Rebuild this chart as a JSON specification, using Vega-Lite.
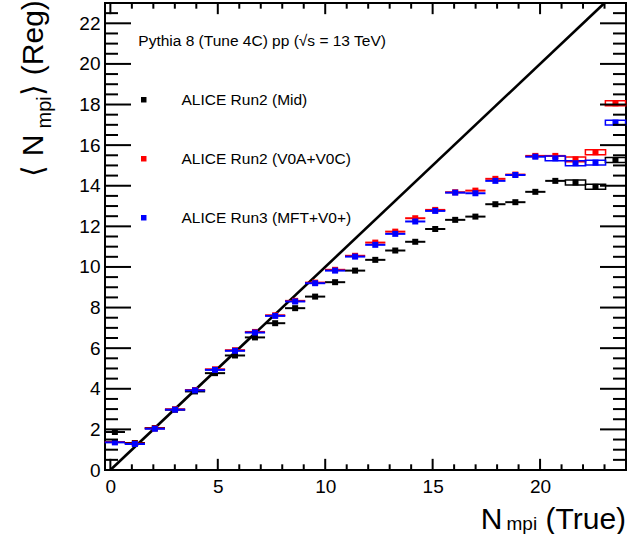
{
  "$schema": "https://vega.github.io/schema/vega-lite/v6.json",
  "autosize": "none",
  "width": 521,
  "height": 467,
  "padding": {"left": 105, "top": 3, "right": 18, "bottom": 64},
  "background": "white",
  "config": {
    "view": {"stroke": "black", "strokeWidth": 2},
    "axis": {"domain": false, "grid": false, "ticks": false, "labelFont": "Liberation Sans", "labelColor": "black", "titleFont": "Liberation Sans", "titleColor": "black", "titleFontWeight": "normal"}
  },
  "data": {"values": [
    {"s":"ALICE Run2 (Mid)","x":0.21,"y":1.87,"xlo":-0.26,"xhi":0.68,"sys":false},
    {"s":"ALICE Run2 (Mid)","x":1.14,"y":1.33,"xlo":0.67,"xhi":1.61,"sys":false},
    {"s":"ALICE Run2 (Mid)","x":2.07,"y":2.07,"xlo":1.60,"xhi":2.54,"sys":false},
    {"s":"ALICE Run2 (Mid)","x":3.01,"y":2.97,"xlo":2.54,"xhi":3.48,"sys":false},
    {"s":"ALICE Run2 (Mid)","x":3.94,"y":3.87,"xlo":3.47,"xhi":4.41,"sys":false},
    {"s":"ALICE Run2 (Mid)","x":4.87,"y":4.77,"xlo":4.40,"xhi":5.34,"sys":false},
    {"s":"ALICE Run2 (Mid)","x":5.80,"y":5.64,"xlo":5.33,"xhi":6.27,"sys":false},
    {"s":"ALICE Run2 (Mid)","x":6.73,"y":6.53,"xlo":6.26,"xhi":7.20,"sys":false},
    {"s":"ALICE Run2 (Mid)","x":7.67,"y":7.23,"xlo":7.20,"xhi":8.14,"sys":false},
    {"s":"ALICE Run2 (Mid)","x":8.60,"y":7.97,"xlo":8.13,"xhi":9.07,"sys":false},
    {"s":"ALICE Run2 (Mid)","x":9.53,"y":8.54,"xlo":9.06,"xhi":10.00,"sys":false},
    {"s":"ALICE Run2 (Mid)","x":10.46,"y":9.25,"xlo":9.99,"xhi":10.93,"sys":false},
    {"s":"ALICE Run2 (Mid)","x":11.39,"y":9.82,"xlo":10.92,"xhi":11.86,"sys":false},
    {"s":"ALICE Run2 (Mid)","x":12.33,"y":10.35,"xlo":11.86,"xhi":12.80,"sys":false},
    {"s":"ALICE Run2 (Mid)","x":13.26,"y":10.81,"xlo":12.79,"xhi":13.73,"sys":false},
    {"s":"ALICE Run2 (Mid)","x":14.19,"y":11.24,"xlo":13.72,"xhi":14.66,"sys":false},
    {"s":"ALICE Run2 (Mid)","x":15.12,"y":11.87,"xlo":14.65,"xhi":15.59,"sys":false},
    {"s":"ALICE Run2 (Mid)","x":16.05,"y":12.32,"xlo":15.58,"xhi":16.52,"sys":false},
    {"s":"ALICE Run2 (Mid)","x":16.99,"y":12.48,"xlo":16.52,"xhi":17.46,"sys":false},
    {"s":"ALICE Run2 (Mid)","x":17.92,"y":13.09,"xlo":17.45,"xhi":18.39,"sys":false},
    {"s":"ALICE Run2 (Mid)","x":18.85,"y":13.19,"xlo":18.38,"xhi":19.32,"sys":false},
    {"s":"ALICE Run2 (Mid)","x":19.78,"y":13.70,"xlo":19.31,"xhi":20.25,"sys":false},
    {"s":"ALICE Run2 (Mid)","x":20.71,"y":14.24,"xlo":20.24,"xhi":21.18,"sys":false},
    {"s":"ALICE Run2 (Mid)","x":21.65,"y":14.16,"xlo":21.18,"xhi":22.12,"sys":true,"ylo":14.04,"yhi":14.28},
    {"s":"ALICE Run2 (Mid)","x":22.58,"y":13.95,"xlo":22.11,"xhi":23.05,"sys":true,"ylo":13.83,"yhi":14.07},
    {"s":"ALICE Run2 (Mid)","x":23.51,"y":15.27,"xlo":23.04,"xhi":23.98,"sys":true,"ylo":15.15,"yhi":15.39},
    {"s":"ALICE Run2 (V0A+V0C)","x":0.21,"y":1.38,"xlo":-0.26,"xhi":0.68,"sys":false},
    {"s":"ALICE Run2 (V0A+V0C)","x":1.14,"y":1.30,"xlo":0.67,"xhi":1.61,"sys":false},
    {"s":"ALICE Run2 (V0A+V0C)","x":2.07,"y":2.05,"xlo":1.60,"xhi":2.54,"sys":false},
    {"s":"ALICE Run2 (V0A+V0C)","x":3.01,"y":2.99,"xlo":2.54,"xhi":3.48,"sys":false},
    {"s":"ALICE Run2 (V0A+V0C)","x":3.94,"y":3.94,"xlo":3.47,"xhi":4.41,"sys":false},
    {"s":"ALICE Run2 (V0A+V0C)","x":4.87,"y":4.96,"xlo":4.40,"xhi":5.34,"sys":false},
    {"s":"ALICE Run2 (V0A+V0C)","x":5.80,"y":5.90,"xlo":5.33,"xhi":6.27,"sys":false},
    {"s":"ALICE Run2 (V0A+V0C)","x":6.73,"y":6.80,"xlo":6.26,"xhi":7.20,"sys":false},
    {"s":"ALICE Run2 (V0A+V0C)","x":7.67,"y":7.62,"xlo":7.20,"xhi":8.14,"sys":false},
    {"s":"ALICE Run2 (V0A+V0C)","x":8.60,"y":8.33,"xlo":8.13,"xhi":9.07,"sys":false},
    {"s":"ALICE Run2 (V0A+V0C)","x":9.53,"y":9.23,"xlo":9.06,"xhi":10.00,"sys":false},
    {"s":"ALICE Run2 (V0A+V0C)","x":10.46,"y":9.86,"xlo":9.99,"xhi":10.93,"sys":false},
    {"s":"ALICE Run2 (V0A+V0C)","x":11.39,"y":10.55,"xlo":10.92,"xhi":11.86,"sys":false},
    {"s":"ALICE Run2 (V0A+V0C)","x":12.33,"y":11.20,"xlo":11.86,"xhi":12.80,"sys":false},
    {"s":"ALICE Run2 (V0A+V0C)","x":13.26,"y":11.74,"xlo":12.79,"xhi":13.73,"sys":false},
    {"s":"ALICE Run2 (V0A+V0C)","x":14.19,"y":12.40,"xlo":13.72,"xhi":14.66,"sys":false},
    {"s":"ALICE Run2 (V0A+V0C)","x":15.12,"y":12.81,"xlo":14.65,"xhi":15.59,"sys":false},
    {"s":"ALICE Run2 (V0A+V0C)","x":16.05,"y":13.68,"xlo":15.58,"xhi":16.52,"sys":false},
    {"s":"ALICE Run2 (V0A+V0C)","x":16.99,"y":13.76,"xlo":16.52,"xhi":17.46,"sys":false},
    {"s":"ALICE Run2 (V0A+V0C)","x":17.92,"y":14.34,"xlo":17.45,"xhi":18.39,"sys":false},
    {"s":"ALICE Run2 (V0A+V0C)","x":18.85,"y":14.55,"xlo":18.38,"xhi":19.32,"sys":false},
    {"s":"ALICE Run2 (V0A+V0C)","x":19.78,"y":15.47,"xlo":19.31,"xhi":20.25,"sys":false},
    {"s":"ALICE Run2 (V0A+V0C)","x":20.71,"y":15.47,"xlo":20.24,"xhi":21.18,"sys":false},
    {"s":"ALICE Run2 (V0A+V0C)","x":21.65,"y":15.30,"xlo":21.18,"xhi":22.12,"sys":true,"ylo":15.18,"yhi":15.42},
    {"s":"ALICE Run2 (V0A+V0C)","x":22.58,"y":15.65,"xlo":22.11,"xhi":23.05,"sys":true,"ylo":15.53,"yhi":15.77},
    {"s":"ALICE Run2 (V0A+V0C)","x":23.51,"y":18.06,"xlo":23.04,"xhi":23.98,"sys":true,"ylo":17.94,"yhi":18.18},
    {"s":"ALICE Run3 (MFT+V0+)","x":0.21,"y":1.36,"xlo":-0.26,"xhi":0.68,"sys":false},
    {"s":"ALICE Run3 (MFT+V0+)","x":1.14,"y":1.28,"xlo":0.67,"xhi":1.61,"sys":false},
    {"s":"ALICE Run3 (MFT+V0+)","x":2.07,"y":2.03,"xlo":1.60,"xhi":2.54,"sys":false},
    {"s":"ALICE Run3 (MFT+V0+)","x":3.01,"y":2.97,"xlo":2.54,"xhi":3.48,"sys":false},
    {"s":"ALICE Run3 (MFT+V0+)","x":3.94,"y":3.92,"xlo":3.47,"xhi":4.41,"sys":false},
    {"s":"ALICE Run3 (MFT+V0+)","x":4.87,"y":4.93,"xlo":4.40,"xhi":5.34,"sys":false},
    {"s":"ALICE Run3 (MFT+V0+)","x":5.80,"y":5.87,"xlo":5.33,"xhi":6.27,"sys":false},
    {"s":"ALICE Run3 (MFT+V0+)","x":6.73,"y":6.77,"xlo":6.26,"xhi":7.20,"sys":false},
    {"s":"ALICE Run3 (MFT+V0+)","x":7.67,"y":7.59,"xlo":7.20,"xhi":8.14,"sys":false},
    {"s":"ALICE Run3 (MFT+V0+)","x":8.60,"y":8.30,"xlo":8.13,"xhi":9.07,"sys":false},
    {"s":"ALICE Run3 (MFT+V0+)","x":9.53,"y":9.20,"xlo":9.06,"xhi":10.00,"sys":false},
    {"s":"ALICE Run3 (MFT+V0+)","x":10.46,"y":9.82,"xlo":9.99,"xhi":10.93,"sys":false},
    {"s":"ALICE Run3 (MFT+V0+)","x":11.39,"y":10.51,"xlo":10.92,"xhi":11.86,"sys":false},
    {"s":"ALICE Run3 (MFT+V0+)","x":12.33,"y":11.09,"xlo":11.86,"xhi":12.80,"sys":false},
    {"s":"ALICE Run3 (MFT+V0+)","x":13.26,"y":11.63,"xlo":12.79,"xhi":13.73,"sys":false},
    {"s":"ALICE Run3 (MFT+V0+)","x":14.19,"y":12.24,"xlo":13.72,"xhi":14.66,"sys":false},
    {"s":"ALICE Run3 (MFT+V0+)","x":15.12,"y":12.76,"xlo":14.65,"xhi":15.59,"sys":false},
    {"s":"ALICE Run3 (MFT+V0+)","x":16.05,"y":13.66,"xlo":15.58,"xhi":16.52,"sys":false},
    {"s":"ALICE Run3 (MFT+V0+)","x":16.99,"y":13.63,"xlo":16.52,"xhi":17.46,"sys":false},
    {"s":"ALICE Run3 (MFT+V0+)","x":17.92,"y":14.24,"xlo":17.45,"xhi":18.39,"sys":false},
    {"s":"ALICE Run3 (MFT+V0+)","x":18.85,"y":14.53,"xlo":18.38,"xhi":19.32,"sys":false},
    {"s":"ALICE Run3 (MFT+V0+)","x":19.78,"y":15.43,"xlo":19.31,"xhi":20.25,"sys":false},
    {"s":"ALICE Run3 (MFT+V0+)","x":20.71,"y":15.35,"xlo":20.24,"xhi":21.18,"sys":true,"ylo":15.23,"yhi":15.47},
    {"s":"ALICE Run3 (MFT+V0+)","x":21.65,"y":15.11,"xlo":21.18,"xhi":22.12,"sys":true,"ylo":14.99,"yhi":15.23},
    {"s":"ALICE Run3 (MFT+V0+)","x":22.58,"y":15.14,"xlo":22.11,"xhi":23.05,"sys":true,"ylo":15.02,"yhi":15.26},
    {"s":"ALICE Run3 (MFT+V0+)","x":23.51,"y":17.11,"xlo":23.04,"xhi":23.98,"sys":true,"ylo":16.99,"yhi":17.23}
  ]},
  "resolve": {"axis": {"x": "independent", "y": "independent"}},
  "layer": [
    {
      "data": {"values": [{"x": 0, "y": 0}, {"x": 23, "y": 23}]},
      "mark": {"type": "line", "color": "black", "strokeWidth": 2.6},
      "encoding": {
        "x": {"field": "x", "type": "quantitative", "scale": {"domain": [-0.25, 24], "nice": false, "zero": false},
              "axis": {"orient": "bottom", "values": [0, 5, 10, 15, 20], "labelPadding": 7, "labelFontSize": 19, "labelFlush": false,
                       "title": "N", "titleFontSize": 30, "titleX": 386, "titleY": 58, "titleAlign": "center", "titleBaseline": "alphabetic", "titleAngle": 0}},
        "y": {"field": "y", "type": "quantitative", "scale": {"domain": [0, 23], "nice": false, "zero": false},
              "axis": {"orient": "left", "values": [0, 2, 4, 6, 8, 10, 12, 14, 16, 18, 20, 22], "labelPadding": 5, "labelFontSize": 19, "labelFlush": false,
                       "title": "⟨ N", "titleFontSize": 30, "titleX": -63, "titleY": 173, "titleAlign": "left", "titleBaseline": "alphabetic", "titleAngle": 270}}
      }
    },
    {
      "transform": [{"filter": {"field": "sys", "equal": false}}],
      "mark": {"type": "rule", "strokeWidth": 2},
      "encoding": {
        "x": {"field": "xlo", "type": "quantitative", "scale": {"domain": [-0.25, 24], "nice": false, "zero": false},
              "axis": {"orient": "bottom", "values": [0], "labels": false,
                       "title": "mpi", "titleFontSize": 19, "titleX": 401, "titleY": 59, "titleAlign": "left", "titleBaseline": "alphabetic", "titleAngle": 0}},
        "x2": {"field": "xhi"},
        "y": {"field": "y", "type": "quantitative", "scale": {"domain": [0, 23], "nice": false, "zero": false},
              "axis": {"orient": "left", "values": [0], "labels": false,
                       "title": "mpi", "titleFontSize": 20, "titleX": -55, "titleY": 125, "titleAlign": "left", "titleBaseline": "alphabetic", "titleAngle": 270}},
        "color": {"field": "s", "type": "nominal",
                  "scale": {"domain": ["ALICE Run2 (Mid)", "ALICE Run2 (V0A+V0C)", "ALICE Run3 (MFT+V0+)"], "range": ["#000000", "#ff0000", "#0000ff"]},
                  "legend": {"orient": "none", "legendX": 31, "legendY": 89, "direction": "vertical", "title": null,
                             "symbolType": "square", "symbolSize": 30, "symbolStrokeWidth": 0, "labelFont": "Liberation Sans", "labelFontSize": 15.5,
                             "labelColor": "black", "labelOffset": 30, "rowPadding": 42, "padding": 0, "labelLimit": 300}}
      }
    },
    {
      "transform": [{"filter": {"field": "sys", "equal": true}}],
      "mark": {"type": "rect", "filled": false, "strokeWidth": 1.5},
      "encoding": {
        "x": {"field": "xlo", "type": "quantitative", "scale": {"domain": [-0.25, 24], "nice": false, "zero": false},
              "axis": {"orient": "bottom", "values": [0], "labels": false,
                       "title": "(True)", "titleFontSize": 30, "titleX": 440, "titleY": 58, "titleAlign": "left", "titleBaseline": "alphabetic", "titleAngle": 0}},
        "x2": {"field": "xhi"},
        "y": {"field": "ylo", "type": "quantitative", "scale": {"domain": [0, 23], "nice": false, "zero": false},
              "axis": {"orient": "left", "values": [0], "labels": false,
                       "title": "⟩ (Reg)", "titleFontSize": 30, "titleX": -63, "titleY": 92, "titleAlign": "left", "titleBaseline": "alphabetic", "titleAngle": 270}},
        "y2": {"field": "yhi"},
        "color": {"field": "s", "type": "nominal",
                  "scale": {"domain": ["ALICE Run2 (Mid)", "ALICE Run2 (V0A+V0C)", "ALICE Run3 (MFT+V0+)"], "range": ["#000000", "#ff0000", "#0000ff"]},
                  "legend": {"orient": "none", "legendX": 31, "legendY": 89, "direction": "vertical", "title": null,
                             "symbolType": "square", "symbolSize": 30, "symbolStrokeWidth": 0, "labelFont": "Liberation Sans", "labelFontSize": 15.5,
                             "labelColor": "black", "labelOffset": 30, "rowPadding": 42, "padding": 0, "labelLimit": 300}}
      }
    },
    {
      "mark": {"type": "square", "size": 36, "opacity": 1, "filled": true, "strokeWidth": 0},
      "encoding": {
        "x": {"field": "x", "type": "quantitative", "scale": {"domain": [-0.25, 24], "nice": false, "zero": false}, "axis": null},
        "y": {"field": "y", "type": "quantitative", "scale": {"domain": [0, 23], "nice": false, "zero": false}, "axis": null},
        "color": {"field": "s", "type": "nominal",
                  "scale": {"domain": ["ALICE Run2 (Mid)", "ALICE Run2 (V0A+V0C)", "ALICE Run3 (MFT+V0+)"], "range": ["#000000", "#ff0000", "#0000ff"]},
                  "legend": {"orient": "none", "legendX": 31, "legendY": 89, "direction": "vertical", "title": null,
                             "symbolType": "square", "symbolSize": 30, "symbolStrokeWidth": 0, "labelFont": "Liberation Sans", "labelFontSize": 15.5,
                             "labelColor": "black", "labelOffset": 30, "rowPadding": 42, "padding": 0, "labelLimit": 300}}
      }
    },
    {
      "data": {"values": [{"note": "Pythia 8 (Tune 4C) pp (√s = 13 TeV)"}]},
      "mark": {"type": "text", "align": "left", "baseline": "middle", "font": "Liberation Sans", "fontSize": 15.5, "color": "black"},
      "encoding": {
        "text": {"field": "note"},
        "x": {"datum": 1.3, "type": "quantitative", "scale": {"domain": [-0.25, 24], "nice": false, "zero": false}, "axis": null},
        "y": {"datum": 21.13, "type": "quantitative", "scale": {"domain": [0, 23], "nice": false, "zero": false}, "axis": null}
      }
    },
    {
      "data": {"values": [
        {"ty":0,"a":-0.25,"b":0.96},{"ty":0.5,"a":-0.25,"b":0.355},{"ty":1,"a":-0.25,"b":0.355},{"ty":1.5,"a":-0.25,"b":0.355},
        {"ty":2,"a":-0.25,"b":0.96},{"ty":2.5,"a":-0.25,"b":0.355},{"ty":3,"a":-0.25,"b":0.355},{"ty":3.5,"a":-0.25,"b":0.355},
        {"ty":4,"a":-0.25,"b":0.96},{"ty":4.5,"a":-0.25,"b":0.355},{"ty":5,"a":-0.25,"b":0.355},{"ty":5.5,"a":-0.25,"b":0.355},
        {"ty":6,"a":-0.25,"b":0.96},{"ty":6.5,"a":-0.25,"b":0.355},{"ty":7,"a":-0.25,"b":0.355},{"ty":7.5,"a":-0.25,"b":0.355},
        {"ty":8,"a":-0.25,"b":0.96},{"ty":8.5,"a":-0.25,"b":0.355},{"ty":9,"a":-0.25,"b":0.355},{"ty":9.5,"a":-0.25,"b":0.355},
        {"ty":10,"a":-0.25,"b":0.96},{"ty":10.5,"a":-0.25,"b":0.355},{"ty":11,"a":-0.25,"b":0.355},{"ty":11.5,"a":-0.25,"b":0.355},
        {"ty":12,"a":-0.25,"b":0.96},{"ty":12.5,"a":-0.25,"b":0.355},{"ty":13,"a":-0.25,"b":0.355},{"ty":13.5,"a":-0.25,"b":0.355},
        {"ty":14,"a":-0.25,"b":0.96},{"ty":14.5,"a":-0.25,"b":0.355},{"ty":15,"a":-0.25,"b":0.355},{"ty":15.5,"a":-0.25,"b":0.355},
        {"ty":16,"a":-0.25,"b":0.96},{"ty":16.5,"a":-0.25,"b":0.355},{"ty":17,"a":-0.25,"b":0.355},{"ty":17.5,"a":-0.25,"b":0.355},
        {"ty":18,"a":-0.25,"b":0.96},{"ty":18.5,"a":-0.25,"b":0.355},{"ty":19,"a":-0.25,"b":0.355},{"ty":19.5,"a":-0.25,"b":0.355},
        {"ty":20,"a":-0.25,"b":0.96},{"ty":20.5,"a":-0.25,"b":0.355},{"ty":21,"a":-0.25,"b":0.355},{"ty":21.5,"a":-0.25,"b":0.355},
        {"ty":22,"a":-0.25,"b":0.96},{"ty":22.5,"a":-0.25,"b":0.355},
        {"ty":0,"a":22.79,"b":24},{"ty":0.5,"a":23.395,"b":24},{"ty":1,"a":23.395,"b":24},{"ty":1.5,"a":23.395,"b":24},
        {"ty":2,"a":22.79,"b":24},{"ty":2.5,"a":23.395,"b":24},{"ty":3,"a":23.395,"b":24},{"ty":3.5,"a":23.395,"b":24},
        {"ty":4,"a":22.79,"b":24},{"ty":4.5,"a":23.395,"b":24},{"ty":5,"a":23.395,"b":24},{"ty":5.5,"a":23.395,"b":24},
        {"ty":6,"a":22.79,"b":24},{"ty":6.5,"a":23.395,"b":24},{"ty":7,"a":23.395,"b":24},{"ty":7.5,"a":23.395,"b":24},
        {"ty":8,"a":22.79,"b":24},{"ty":8.5,"a":23.395,"b":24},{"ty":9,"a":23.395,"b":24},{"ty":9.5,"a":23.395,"b":24},
        {"ty":10,"a":22.79,"b":24},{"ty":10.5,"a":23.395,"b":24},{"ty":11,"a":23.395,"b":24},{"ty":11.5,"a":23.395,"b":24},
        {"ty":12,"a":22.79,"b":24},{"ty":12.5,"a":23.395,"b":24},{"ty":13,"a":23.395,"b":24},{"ty":13.5,"a":23.395,"b":24},
        {"ty":14,"a":22.79,"b":24},{"ty":14.5,"a":23.395,"b":24},{"ty":15,"a":23.395,"b":24},{"ty":15.5,"a":23.395,"b":24},
        {"ty":16,"a":22.79,"b":24},{"ty":16.5,"a":23.395,"b":24},{"ty":17,"a":23.395,"b":24},{"ty":17.5,"a":23.395,"b":24},
        {"ty":18,"a":22.79,"b":24},{"ty":18.5,"a":23.395,"b":24},{"ty":19,"a":23.395,"b":24},{"ty":19.5,"a":23.395,"b":24},
        {"ty":20,"a":22.79,"b":24},{"ty":20.5,"a":23.395,"b":24},{"ty":21,"a":23.395,"b":24},{"ty":21.5,"a":23.395,"b":24},
        {"ty":22,"a":22.79,"b":24},{"ty":22.5,"a":23.395,"b":24}
      ]},
      "mark": {"type": "rule", "stroke": "#000000", "strokeWidth": 2, "opacity": 1, "strokeOpacity": 1},
      "encoding": {
        "y": {"field": "ty", "type": "quantitative", "scale": {"domain": [0, 23], "nice": false, "zero": false}, "axis": null},
        "x": {"field": "a", "type": "quantitative", "scale": {"domain": [-0.25, 24], "nice": false, "zero": false}, "axis": null},
        "x2": {"field": "b"},
        "color": {"value": "#000000"},
        "strokeWidth": {"value": 2},
        "opacity": {"value": 1}
      }
    },
    {
      "data": {"values": [
        {"tx":0,"c":0,"d":0.55},{"tx":1,"c":0,"d":0.28},{"tx":2,"c":0,"d":0.28},{"tx":3,"c":0,"d":0.28},{"tx":4,"c":0,"d":0.28},
        {"tx":5,"c":0,"d":0.55},{"tx":6,"c":0,"d":0.28},{"tx":7,"c":0,"d":0.28},{"tx":8,"c":0,"d":0.28},{"tx":9,"c":0,"d":0.28},
        {"tx":10,"c":0,"d":0.55},{"tx":11,"c":0,"d":0.28},{"tx":12,"c":0,"d":0.28},{"tx":13,"c":0,"d":0.28},{"tx":14,"c":0,"d":0.28},
        {"tx":15,"c":0,"d":0.55},{"tx":16,"c":0,"d":0.28},{"tx":17,"c":0,"d":0.28},{"tx":18,"c":0,"d":0.28},{"tx":19,"c":0,"d":0.28},
        {"tx":20,"c":0,"d":0.55},{"tx":21,"c":0,"d":0.28},{"tx":22,"c":0,"d":0.28},{"tx":23,"c":0,"d":0.28},
        {"tx":0,"c":22.45,"d":23},{"tx":1,"c":22.72,"d":23},{"tx":2,"c":22.72,"d":23},{"tx":3,"c":22.72,"d":23},{"tx":4,"c":22.72,"d":23},
        {"tx":5,"c":22.45,"d":23},{"tx":6,"c":22.72,"d":23},{"tx":7,"c":22.72,"d":23},{"tx":8,"c":22.72,"d":23},{"tx":9,"c":22.72,"d":23},
        {"tx":10,"c":22.45,"d":23},{"tx":11,"c":22.72,"d":23},{"tx":12,"c":22.72,"d":23},{"tx":13,"c":22.72,"d":23},{"tx":14,"c":22.72,"d":23},
        {"tx":15,"c":22.45,"d":23},{"tx":16,"c":22.72,"d":23},{"tx":17,"c":22.72,"d":23},{"tx":18,"c":22.72,"d":23},{"tx":19,"c":22.72,"d":23},
        {"tx":20,"c":22.45,"d":23},{"tx":21,"c":22.72,"d":23},{"tx":22,"c":22.72,"d":23},{"tx":23,"c":22.72,"d":23}
      ]},
      "mark": {"type": "rule", "stroke": "#000000", "strokeWidth": 2, "opacity": 1, "strokeOpacity": 1},
      "encoding": {
        "x": {"field": "tx", "type": "quantitative", "scale": {"domain": [-0.25, 24], "nice": false, "zero": false}, "axis": null},
        "y": {"field": "c", "type": "quantitative", "scale": {"domain": [0, 23], "nice": false, "zero": false}, "axis": null},
        "y2": {"field": "d"},
        "color": {"value": "#000000"},
        "strokeWidth": {"value": 2},
        "opacity": {"value": 1}
      }
    }
  ]
}
